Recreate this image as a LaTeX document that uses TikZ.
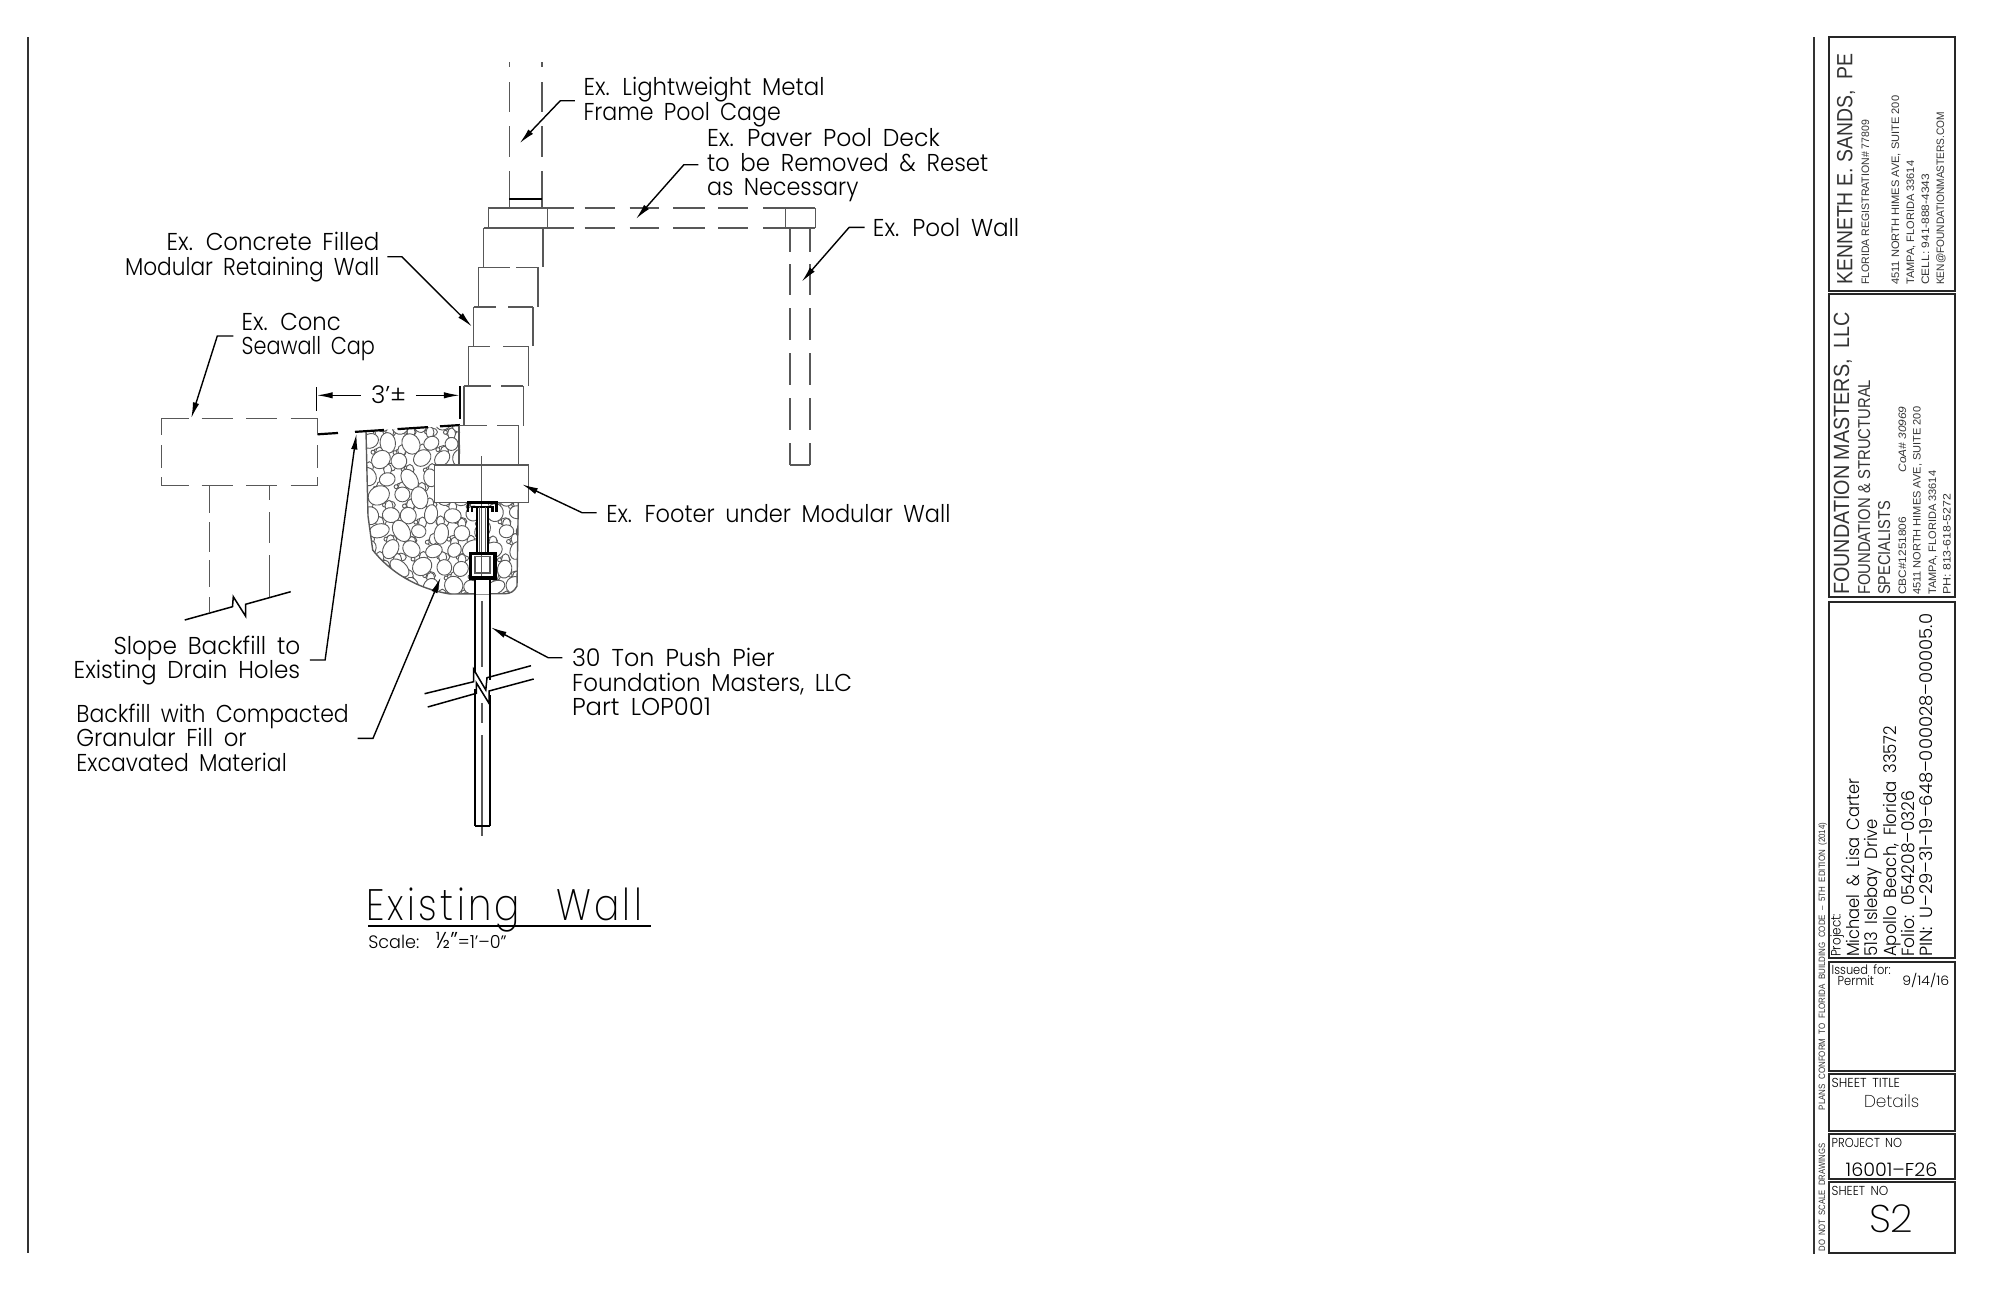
\documentclass[tikz,border=0pt]{standalone}
\usepackage{fontspec}
\usepackage{graphicx}
\usetikzlibrary{arrows.meta}
\newfontfamily\cad[WordSpace=1.7,UprightFont=* Light]{Poppins}
\newfontfamily\cadw[WordSpace=2.6,LetterSpace=9,UprightFont=* ExtraLight]{Poppins}
\newfontfamily\cadt[WordSpace=1.7,UprightFont=* ExtraLight]{Poppins}
\newfontfamily\arl{Liberation Sans}
\newlength{\pxu}\setlength{\pxu}{0.5pt}
\definecolor{gl}{HTML}{585858}
\tikzset{
 glin/.style={draw=gl,line width=0.7pt},
 stone/.style={draw=gl,line width=0.45pt,fill=white},
 blk/.style={draw=black,line width=1pt},
 thick1/.style={draw=black,line width=1.2pt},
 boxb/.style={draw=black!85,line width=1.1pt},
 leader/.style={draw=black,line width=0.7pt,-{Latex[length=8pt,width=3.2pt]}},
 txt/.style={anchor=base west,inner sep=0pt,outer sep=0pt,yshift=-0.4pt},
 vert/.style={txt,rotate=90,text=black!80},
}
% name, x, y, width(px), size(pt), text
\newcommand{\lb}[6][]{\node[txt,#1] (#2) at (#3) {\resizebox{#4\pxu}{\height}{\cad\fontsize{#5}{#5}\selectfont #6}};}
\newcommand{\lt}[6][]{\node[txt,#1] (#2) at (#3) {\resizebox{#4\pxu}{\height}{\cadt\fontsize{#5}{#5}\selectfont #6}};}
\newcommand{\vb}[5]{\node[vert] (#1) at (#2) {\resizebox{#3\pxu}{\height}{\arl\fontsize{#4}{#4}\selectfont #5}};}
\newcommand{\vc}[5]{\node[vert,text=black] (#1) at (#2) {\resizebox{#3\pxu}{\height}{\cad\fontsize{#4}{#4}\selectfont #5}};}
\begin{document}
\begin{tikzpicture}[x=0.5pt,y=-0.5pt]
\useasboundingbox (0,0) rectangle (1992,1292);
\fill[white] (0,0) rectangle (1992,1292);
% sheet border
\draw[draw=black!80,line width=1.1pt] (28,37) -- (28,1253);
\draw[draw=black!80,line width=1.1pt] (1814,37) -- (1814,1254);
% stones
\begin{scope}
\clip (366,431) -- (460,425.5) -- (460,465) -- (434.5,465) -- (434.5,503) -- (518.3,503) -- (517,586) .. controls (514,592) and (510,593.5) .. (505,593.7) -- (450,594) .. controls (425,590) and (395,578) .. (372.7,550) -- (368,516) -- cycle;
\pgfmathsetseed{11}
\foreach \r in {0,...,10}{
 \foreach \c in {0,...,8}{
  \pgfmathsetmacro{\xx}{358+\c*21+mod(\r,2)*10.5+rand*2.5}
  \pgfmathsetmacro{\yy}{424+\r*18+rand*2}
  \draw[stone] (\xx+10.5,\yy+9) ellipse [x radius=2.7pt,y radius=2pt];
  \draw[stone] (\xx-10.5,\yy+9) ellipse [x radius=2pt,y radius=2.8pt];
  \draw[stone] (\xx+5,\yy+9) circle [radius=1pt];
 }
}
\foreach \r in {0,...,10}{
 \foreach \c in {0,...,8}{
  \pgfmathsetmacro{\xx}{358+\c*21+mod(\r,2)*10.5+rand*2.5}
  \pgfmathsetmacro{\yy}{424+\r*18+rand*2}
  \pgfmathsetmacro{\ang}{rnd*180}
  \pgfmathsetmacro{\ra}{3.2+rnd*2.6}
  \pgfmathsetmacro{\rb}{3.2+rnd*1.4}
  \draw[stone,rotate around={\ang:(\xx,\yy)}] (\xx,\yy) ellipse [x radius=\ra pt,y radius=\rb pt];
 }
}
\end{scope}
\draw[glin] (366,431) -- (368,516) -- (372.7,550) .. controls (395,578) and (425,590) .. (450,594) -- (505,593.7) .. controls (510,593.5) and (514,592) .. (517,586) -- (518.3,503);
% slope line
\foreach \a/\b in {317.5/338,355/384,397.5/428,440/459.8}{
 \draw[blk,line width=1.1pt] (\a,{434.3-(\a-317.5)*0.065}) -- (\b,{434.3-(\b-317.5)*0.065});
}
% pool cage
\foreach \x in {509.4,541.9}{
 \foreach \a/\b in {62/67,82/112,126/157,171/208}{\draw[glin] (\x,\a) -- (\x,\b);}
}
\draw[blk,line width=0.8pt] (509.4,198.7) -- (541.9,198.7);
% deck
\draw[glin] (547.7,228) -- (488.5,228) -- (488.5,208) -- (547.7,208) -- cycle;
\draw[glin] (483.7,228) -- (488.5,228);
\foreach \a/\b in {547.7/574,584.5/615,629.6/659,673/705,718/748,763/815.2}{
 \draw[glin] (\a,208) -- (\b,208);
 \draw[glin] (\a,228) -- (\b,228);
}
\draw[glin] (785.7,208) -- (785.7,228);
\draw[glin] (815.2,208) -- (815.2,228);
% pool wall
\foreach \x in {790,809.9}{
 \foreach \a/\b in {228/252,264/295,308/340,353/385,398/430,443/465}{\draw[glin] (\x,\a) -- (\x,\b);}
}
\draw[glin] (790,465) -- (809.9,465);
% modular wall blocks
\foreach \l/\r/\t/\bo in {483.7/542.8/228/267.3,478.4/538/267.3/307,473.5/533.1/307/346.3,468.7/528.3/346.3/386,463.8/523.4/386/425.7,459/518.6/425.7/465}{
 \draw[glin] (\l,\t) -- (\l,\bo);
 \draw[glin] (\r,\t) -- (\r,\bo);
}
\foreach \y/\a/\b/\c/\d in {267.3/478.4/510/516/538,307/473.5/496/508/533.1,346.3/468.7/490/503/528.3,386/463.8/491/501/523.4,425.7/459/487/497/518.6}{
 \draw[glin] (\a,\y) -- (\b,\y);
 \draw[glin] (\c,\y) -- (\d,\y);
}
\draw[glin,fill=white] (434.3,465) rectangle (528.3,502.7);
% seawall cap
\foreach \y in {418.3,485.7}{
 \foreach \a/\b in {161.3/188.5,201.5/233,246/277,290.7/317.5}{\draw[glin] (\a,\y) -- (\b,\y);}
}
\foreach \x in {161.3,317.5}{
 \foreach \a/\b in {418.3/435,445/468,477/485.7}{\draw[glin] (\x,\a) -- (\x,\b);}
}
\foreach \a/\b in {485.7/513,522/552,560/587,597/612.3}{\draw[glin] (209.5,\a) -- (209.5,\b);}
\foreach \a/\b in {485.7/500,512/543,555/596.7}{\draw[glin] (269.2,\a) -- (269.2,\b);}
\draw[blk,line width=0.75pt] (184.7,620) -- (232.5,606.7) -- (233.3,596.7) -- (245.5,616) -- (245.5,604.3) -- (290.7,591.7);
% pier
\fill[white] (476.7,503) rectangle (488.3,553);
\fill[white] (470,553.3) rectangle (495,578.3);
\fill[white] (474.7,578) rectangle (490,594);
\draw[glin] (481.7,456) -- (481.7,578);
\foreach \a/\b in {601/667,703/723,735/836}{\draw[glin] (482,\a) -- (482,\b);}
\draw[thick1] (468,511.5) -- (468,502.5) -- (496.5,502.5) -- (496.5,511.5);
\draw[thick1] (472,511.5) -- (472,507) -- (492.5,507) -- (492.5,511.5);
\draw[blk] (476.7,507) -- (476.7,553);
\draw[blk] (488.3,507) -- (488.3,553);
\draw[glin] (479.7,507) -- (479.7,553);
\draw[glin] (485.3,507) -- (485.3,553);
\draw[draw=black,line width=1.7pt] (470.5,553.5) rectangle (495,578);
\draw[glin] (475,556.7) rectangle (490,573);
\foreach \x/\a/\b/\c/\d in {474.7/578/672/689/826,490/578/680/695/826}{
 \draw[blk] (\x,\a) -- (\x,\b);
 \draw[blk] (\x,\c) -- (\x,\d);
}
\draw[blk] (474.7,826) -- (490,826);
\draw[blk,line width=0.75pt] (424.6,693.7) -- (473.6,681.7) -- (473.6,669.3) -- (485.8,690) -- (487,677.7) -- (531,665.7);
\draw[blk,line width=0.75pt] (427.7,707) -- (476.3,693.3) -- (476.3,682.7) -- (489,703.3) -- (489,691) -- (533.7,679);
% dimension
\coordinate (dl) at (316.7,395.3);
\coordinate (dr) at (459.8,395.3);
\draw[draw=black,line width=0.7pt] (316.7,387) -- (316.7,410.7);
\draw[draw=black,line width=0.7pt] (459.8,386) -- (459.8,419);
\lb{dim}{371,402.7}{35.2}{12.2}{3’±}
\coordinate (dla) at (360.7,395.3);
\coordinate (dra) at (415.8,395.3);
\draw[leader] (dla) -- (dl);
\draw[leader] (dra) -- (dr);
% labels
\lb{lcage1}{583.5,95}{241}{12.2}{Ex. Lightweight Metal}
\lb{lcage2}{583.5,119.5}{197.3}{12.2}{Frame Pool Cage}
\lb{ldeck1}{707,146}{232.8}{12.2}{Ex. Paver Pool Deck}
\lb{ldeck2}{707,170.7}{281.3}{12.2}{to be Removed \& Reset}
\lb{ldeck3}{707,195}{151.4}{12.2}{as Necessary}
\lb{lpool}{872.9,236}{146.4}{12.2}{Ex. Pool Wall}
\lb{lfoot}{606.3,522}{344.2}{12.2}{Ex. Footer under Modular Wall}
\lb{lwall1}{166.7,250}{212.6}{12.2}{Ex. Concrete Filled}
\lb{lwall2}{125,275}{254.3}{12.2}{Modular Retaining Wall}
\lb{lcap1}{241.7,329.3}{99}{12.2}{Ex. Conc}
\lb{lcap2}{241.7,354}{133.3}{12.2}{Seawall Cap}
\lb{lslope1}{113.5,653.3}{186.7}{12.2}{Slope Backfill to}
\lb{lslope2}{73.7,677.7}{226.5}{12.2}{Existing Drain Holes}
\lb{lfill1}{76.4,721.7}{272.4}{12.2}{Backfill with Compacted}
\lb{lfill2}{76.4,746}{170.3}{12.2}{Granular Fill or}
\lb{lfill3}{76.4,770.7}{210.4}{12.2}{Excavated Material}
\lb{lpier1}{572,665.7}{202.7}{12.2}{30 Ton Push Pier}
\lb{lpier2}{572,690.7}{280}{12.2}{Foundation Masters, LLC}
\lb{lpier3}{572,715}{139}{12.2}{Part LOP001}
% leaders
\coordinate (c1a) at (574.8,100.7); \coordinate (c1b) at (560.3,100.7); \coordinate (c1c) at (519.6,143.3);
\draw[leader] (c1a) -- (c1b) -- (c1c);
\coordinate (c2a) at (698.4,164.7); \coordinate (c2b) at (683.9,164.7); \coordinate (c2c) at (635.9,219);
\draw[leader] (c2a) -- (c2b) -- (c2c);
\coordinate (c3a) at (864.7,227.3); \coordinate (c3b) at (849.2,227.3); \coordinate (c3c) at (801.7,281.7);
\draw[leader] (c3a) -- (c3b) -- (c3c);
\coordinate (c4a) at (596.6,512.7); \coordinate (c4b) at (582.1,512.7); \coordinate (c4c) at (522,484.3);
\draw[leader] (c4a) -- (c4b) -- (c4c);
\coordinate (c5a) at (387.3,256.7); \coordinate (c5b) at (401.8,256.7); \coordinate (c5c) at (472,326.7);
\draw[leader] (c5a) -- (c5b) -- (c5c);
\coordinate (c6a) at (233.3,336); \coordinate (c6b) at (217.3,336); \coordinate (c6c) at (191.2,418.3);
\draw[leader] (c6a) -- (c6b) -- (c6c);
\coordinate (c7a) at (309.8,660); \coordinate (c7b) at (325.1,660); \coordinate (c7c) at (356.5,433.5);
\draw[leader] (c7a) -- (c7b) -- (c7c);
\coordinate (c8a) at (357.6,738.3); \coordinate (c8b) at (373,738.3); \coordinate (c8c) at (440.7,577.3);
\draw[leader] (c8a) -- (c8b) -- (c8c);
\coordinate (c9a) at (562.4,657.7); \coordinate (c9b) at (548.2,657.7); \coordinate (c9c) at (490.8,627.3);
\draw[leader] (c9a) -- (c9b) -- (c9c);
% title
\node[txt] (ttl) at (366,920) {\resizebox{276\pxu}{\height}{\cadw\fontsize{22}{22}\selectfont Existing Wall}};
\draw[blk,line width=0.9pt] (368.3,925.7) -- (650.7,925.7);
\lb{scl}{368.3,947.7}{138.4}{9}{Scale:\ \ {\fontsize{11.5}{11.5}\selectfont ½”}=1’–0”}
% title block
\foreach \t/\bo in {37.3/290.7,294/597.3,601.7/958.3,961.7/1070.7,1074.3/1130.7,1134.3/1179,1182.3/1252.7}{
 \draw[boxb] (1829,\t) rectangle (1955,\bo);
}
\vb{k1}{1852.3,284}{231}{11}{KENNETH E. SANDS,\ \ PE}
\vb{k2}{1869,284}{165}{5.4}{FLORIDA REGISTRATION\# 77809}
\vb{k3}{1899,284}{189}{5.4}{4511 NORTH HIMES AVE, SUITE 200}
\vb{k4}{1914,284}{124}{5.4}{TAMPA, FLORIDA 33614}
\vb{k5}{1929,284}{111}{5.4}{CELL: 941-888-4343}
\vb{k6}{1944,284}{173}{5.4}{KEN@FOUNDATIONMASTERS.COM}
\vb{f1}{1849,594}{283}{11}{FOUNDATION MASTERS,\ \ LLC}
\vb{f2}{1870,594}{215}{8.6}{FOUNDATION \& STRUCTURAL}
\vb{f3}{1890,594}{94}{8.6}{SPECIALISTS}
\vb{f4}{1906,594}{78}{5.4}{CBC\#1251806}
\vb{f5}{1906,471.7}{66}{5.4}{\itshape CoA\# 30969}
\vb{f6}{1920.7,594}{188}{5.4}{4511 NORTH HIMES AVE, SUITE 200}
\vb{f7}{1936,594}{124}{5.4}{TAMPA, FLORIDA 33614}
\vb{f8}{1950.7,594}{101}{5.4}{PH: 813-618-5272}
\vc{p0}{1840.7,956}{43}{6.8}{Project:}
\vc{p1}{1859.3,956}{178}{8.8}{Michael \& Lisa Carter}
\vc{p2}{1877.3,956}{138}{8.8}{513 Islebay Drive}
\vc{p3}{1896,956}{231}{8.8}{Apollo Beach, Florida 33572}
\vc{p4}{1914,956}{166}{8.8}{Folio: 054208–0326}
\vc{p5}{1932.7,956}{343}{8.8}{PIN: U–29–31–19–648–000028–00005.0}
\lb{i1}{1831.7,974}{59}{6.5}{Issued for:}
\lb{i2}{1837.7,985}{36.3}{6.5}{Permit}
\lb{i3}{1902.3,985}{47}{6.5}{9/14/16}
\lb{s1}{1831.7,1086.7}{68.3}{6.5}{SHEET TITLE}
\lt{s2}{1864,1106.7}{55.3}{8.6}{Details}
\lb{s3}{1831.7,1146.7}{70.3}{6.5}{PROJECT NO}
\lb{s4}{1845.7,1176}{91.6}{9.3}{16001–F26}
\lb{s5}{1831.7,1195}{56.6}{6.5}{SHEET NO}
\lt{s6}{1869,1231.7}{44.3}{19.3}{S2}
\vb{v1}{1825,1109.3}{287.6}{4.6}{PLANS\ \ CONFORM\ \ TO\ \ FLORIDA\ \ BUILDING\ \ CODE\ \ –\ \ 5TH\ \ EDITION\ \ (2014)}
\vb{v2}{1825,1250.7}{107.7}{4.6}{DO\ \ NOT\ \ SCALE\ \ DRAWINGS}
\end{tikzpicture}
\end{document}
